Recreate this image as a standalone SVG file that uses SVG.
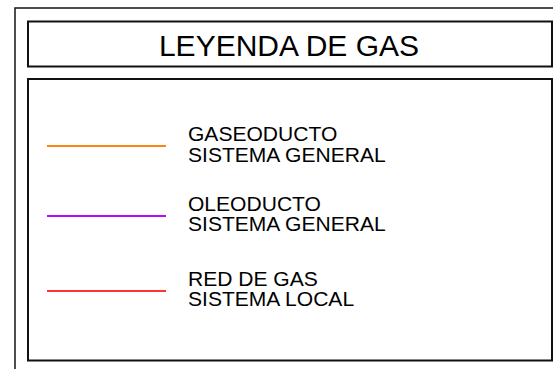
<svg xmlns="http://www.w3.org/2000/svg" width="553" height="369" viewBox="0 0 553 369">
  <style>
    .frame { fill: none; stroke: #222; stroke-width: 1.6; }
    .box { fill: #fff; stroke: #111; stroke-width: 2; }
    .title { font-family: "Liberation Sans", Arial, sans-serif; font-size: 30px; fill: #000; }
    .lbl { font-family: "Liberation Sans", Arial, sans-serif; font-size: 19.5px; fill: #000; }
    .sw { stroke-width: 2.2; fill: none; }
  </style>
  <rect width="553" height="369" fill="#fff"/>
  <g id="outer-frame">
    <rect class="frame" x="15" y="8" width="620" height="420"/>
  </g>
  <g id="title-box">
    <rect class="box" x="28" y="21.5" width="524" height="45"/>
    <text class="title" x="289" y="55.5" text-anchor="middle">LEYENDA DE GAS</text>
  </g>
  <g id="legend-box">
    <rect class="box" x="28" y="79" width="524" height="281.5"/>
  </g>
  <g id="item-gaseoducto">
    <line class="sw" x1="47" y1="146" x2="166" y2="146" stroke="#ff8412"/>
    <g transform="translate(188,0) scale(1.08,1)">
      <text class="lbl" x="0" y="141.5">GASEODUCTO</text>
      <text class="lbl" x="0" y="162">SISTEMA GENERAL</text>
    </g>
  </g>
  <g id="item-oleoducto">
    <line class="sw" x1="47" y1="216" x2="166" y2="216" stroke="#b40cff"/>
    <g transform="translate(188,0) scale(1.08,1)">
      <text class="lbl" x="0" y="211">OLEODUCTO</text>
      <text class="lbl" x="0" y="231.5">SISTEMA GENERAL</text>
    </g>
  </g>
  <g id="item-red-de-gas">
    <line class="sw" x1="47" y1="291" x2="166" y2="291" stroke="#ff3333"/>
    <g transform="translate(188,0) scale(1.08,1)">
      <text class="lbl" x="0" y="286">RED DE GAS</text>
      <text class="lbl" x="0" y="306.5">SISTEMA LOCAL</text>
    </g>
  </g>
  <g id="connectors"/>
</svg>
